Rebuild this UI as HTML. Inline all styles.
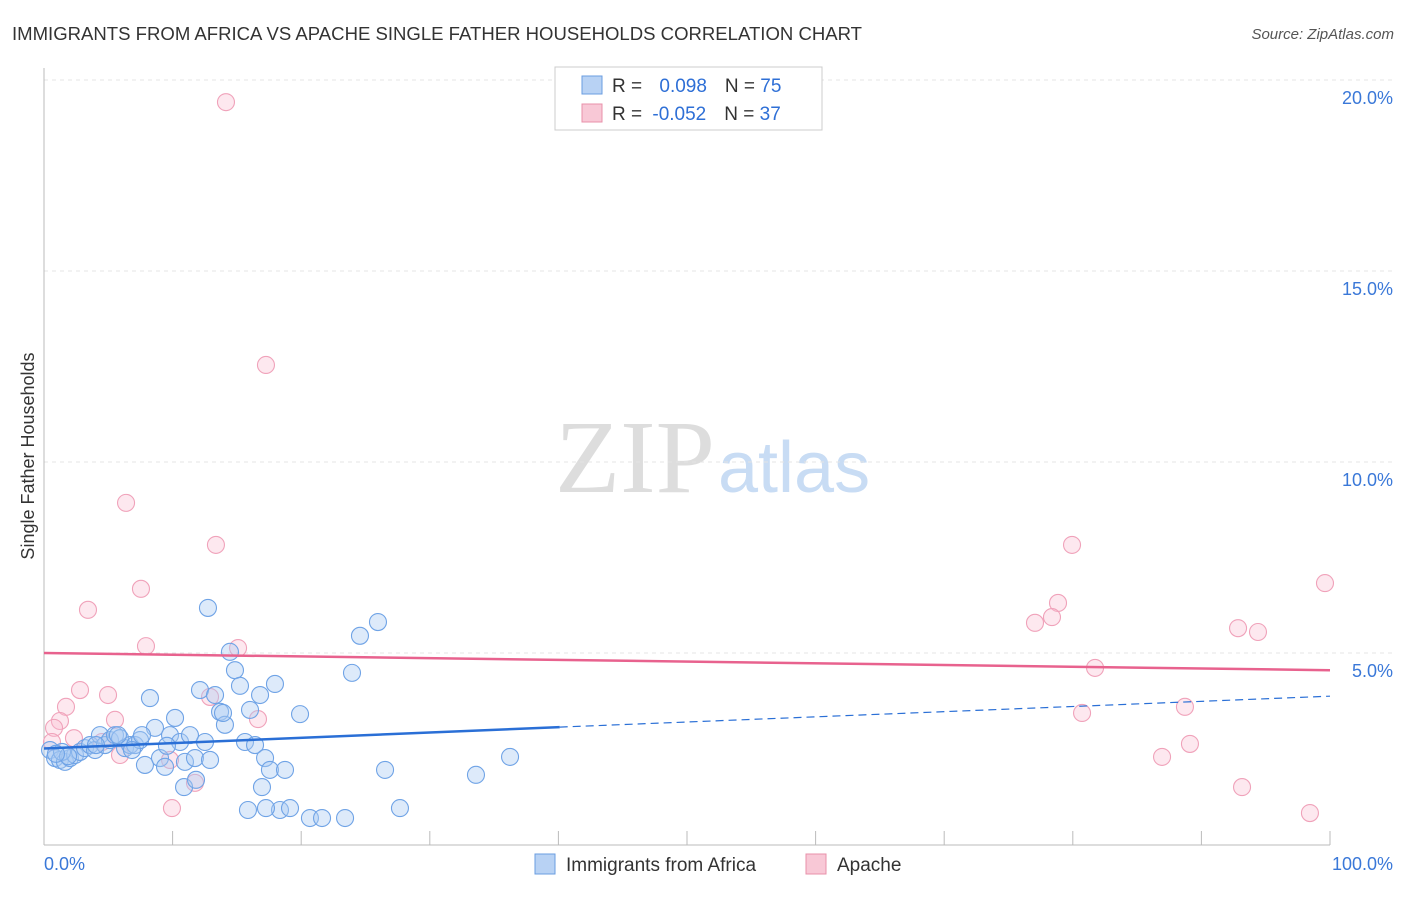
<!DOCTYPE html>
<html><head><meta charset="utf-8"><style>
body{margin:0;background:#fff;font-family:"Liberation Sans",sans-serif}
</style></head><body>
<svg width="1406" height="892" xmlns="http://www.w3.org/2000/svg" id="chart">
<text x="12" y="40" font-size="18" fill="#333" textLength="850" lengthAdjust="spacingAndGlyphs">IMMIGRANTS FROM AFRICA VS APACHE SINGLE FATHER HOUSEHOLDS CORRELATION CHART</text>
<text x="1394" y="39" font-size="15" fill="#555" font-style="italic" text-anchor="end">Source: ZipAtlas.com</text>
<text x="555" y="492" font-size="104" fill="#ddd" font-family="Liberation Serif" textLength="160" lengthAdjust="spacingAndGlyphs">ZIP</text>
<text x="718" y="492" font-size="72" fill="#c8dcf4">atlas</text>
<text transform="translate(34,456) rotate(-90)" font-size="18" fill="#333" text-anchor="middle">Single Father Households</text>
<g id="grid"></g><g id="axes"></g><g id="pts"></g><g id="trend"></g>
<g>
<rect x="555" y="67" width="267" height="63" fill="#fff" stroke="#ccc"/>
<rect x="582" y="76" width="20" height="18" fill="#b8d2f4" stroke="#6a9de0"/>
<text x="612" y="92" font-size="19" fill="#333">R = <tspan fill="#2e6fd6" dx="12">0.098</tspan><tspan dx="18">N = </tspan><tspan fill="#2e6fd6">75</tspan></text>
<rect x="582" y="104" width="20" height="18" fill="#f8c8d6" stroke="#e890aa"/>
<text x="612" y="120" font-size="19" fill="#333">R = <tspan fill="#2e6fd6" dx="5">-0.052</tspan><tspan dx="18">N = </tspan><tspan fill="#2e6fd6">37</tspan></text>
</g>
<g>
<rect x="535" y="854" width="20" height="20" fill="#b8d2f4" stroke="#6a9de0"/>
<text x="566" y="871" font-size="19" fill="#333">Immigrants from Africa</text>
<rect x="806" y="854" width="20" height="20" fill="#f8c8d6" stroke="#e890aa"/>
<text x="837" y="871" font-size="19" fill="#333">Apache</text>
</g>
</svg>
<script>
const yTicks=[5,10,15,20];
const yTickLabels=["5.0%","10.0%","15.0%","20.0%"];
const xTickLabels=["0.0%","100.0%"];
const blueX=[0.47,0.86,1.24,1.63,2.02,2.41,2.80,3.19,3.58,3.97,4.35,4.74,5.13,5.52,5.91,6.30,6.69,7.08,7.47,7.85,8.24,8.63,9.02,9.41,9.80,10.19,10.58,10.96,11.35,11.74,12.13,12.52,12.91,13.30,13.69,14.07,14.46,14.85,15.24,15.63,16.02,16.41,16.80,17.19,17.57,17.96,18.35,18.74,19.13,19.91,20.68,21.62,23.41,23.95,24.57,25.97,26.52,27.68,33.59,36.24,12.75,13.92,10.89,11.82,16.95,15.86,17.26,9.56,7.62,5.75,1.40,1.87,0.93,4.04,6.84];
const blueY=[2.46,2.25,2.20,2.15,2.25,2.33,2.41,2.51,2.59,2.46,2.85,2.59,2.72,2.85,2.77,2.51,2.59,2.59,2.72,2.07,3.82,3.04,2.25,2.02,2.85,3.30,2.67,2.15,2.85,2.25,4.03,2.67,2.20,3.90,3.46,3.12,5.03,4.55,4.14,2.67,3.51,2.59,3.90,2.25,1.94,4.19,0.89,1.94,0.94,3.40,0.68,0.68,0.68,4.48,5.45,5.81,1.94,0.94,1.81,2.28,6.18,3.43,1.49,1.68,1.49,0.89,0.94,2.57,2.85,2.85,2.41,2.30,2.36,2.59,2.46];
const pinkX=[14.15,17.26,6.38,13.37,7.54,3.42,7.93,15.09,2.80,4.98,1.71,1.24,0.78,5.52,2.33,0.62,5.91,11.74,9.95,12.91,16.64,79.94,99.61,78.85,78.38,77.06,92.85,94.40,81.73,80.72,88.72,89.11,86.94,93.16,98.44,4.51,9.80];
const pinkY=[19.42,12.54,8.93,7.83,6.68,6.13,5.18,5.13,4.03,3.90,3.59,3.22,3.04,3.25,2.77,2.67,2.33,1.60,0.94,3.85,3.27,7.83,6.83,6.31,5.94,5.79,5.65,5.55,4.61,3.43,3.59,2.62,2.28,1.49,0.81,2.67,2.20];
const blueTrend=[2.5,3.06,3.87];
const blueTrendX=[0,40.1,100];
const pinkTrend=[5.0,4.55];
const NS="http://www.w3.org/2000/svg";
const X0=44,X1=1330,Y0=844,PPY=38.2;
const sx=v=>X0+(X1-X0)*v/100, sy=v=>Y0-v*PPY;
function mk(tag,attrs,parent){const e=document.createElementNS(NS,tag);for(const k in attrs)e.setAttribute(k,attrs[k]);document.getElementById(parent).appendChild(e);return e;}
yTicks.forEach((t,i)=>{
 const l=mk('line',{x1:X0,x2:1394,y1:sy(t),y2:sy(t),stroke:'#e4e4e4','stroke-dasharray':'4,4'},'grid');
 
 
 const tx=mk('text',{x:1393,y:sy(t)+24,'font-size':18,fill:'#3a78d8','text-anchor':'end'},'grid');
 tx.textContent=yTickLabels[i];
 
 
});
const ax=mk('line',{x1:X0,x2:X0,y1:68,y2:845,stroke:'#bbb'},'axes');


const bx=mk('line',{x1:X0,x2:X1,y1:845,y2:845,stroke:'#bbb'},'axes');


for(let i=1;i<=10;i++){const t=mk('line',{x1:sx(i*10),x2:sx(i*10),y1:831,y2:845,stroke:'#bbb'},'axes');
 
 }
[[0,'start',X0],[1,'end',1393]].forEach(([i,a,x])=>{const t=mk('text',{x:x,y:870,'font-size':18,fill:'#3a78d8','text-anchor':a},'axes');t.textContent=xTickLabels[i];
 
 });
pinkX.forEach((v,i)=>{const c=mk('circle',{cx:sx(v),cy:sy(pinkY[i]),r:8.5,fill:'rgba(250,190,208,0.35)',stroke:'#f0a2ba','stroke-width':1.1},'pts');
 
 });
blueX.forEach((v,i)=>{const c=mk('circle',{cx:sx(v),cy:sy(blueY[i]),r:8.5,fill:'rgba(170,202,242,0.4)',stroke:'#6fa3e6','stroke-width':1.1},'pts');
 
 });
const pl=mk('line',{x1:sx(0),y1:sy(pinkTrend[0]),x2:sx(100),y2:sy(pinkTrend[1]),stroke:'#e8628e','stroke-width':2.5},'trend');


const b1=mk('line',{x1:sx(blueTrendX[0]),y1:sy(blueTrend[0]),x2:sx(blueTrendX[1]),y2:sy(blueTrend[1]),stroke:'#2a6fd6','stroke-width':2.5},'trend');


const b2=mk('line',{x1:sx(blueTrendX[1]),y1:sy(blueTrend[1]),x2:sx(blueTrendX[2]),y2:sy(blueTrend[2]),stroke:'#2a6fd6','stroke-width':1.2,'stroke-dasharray':'8,5'},'trend');


</script>
</body></html>
